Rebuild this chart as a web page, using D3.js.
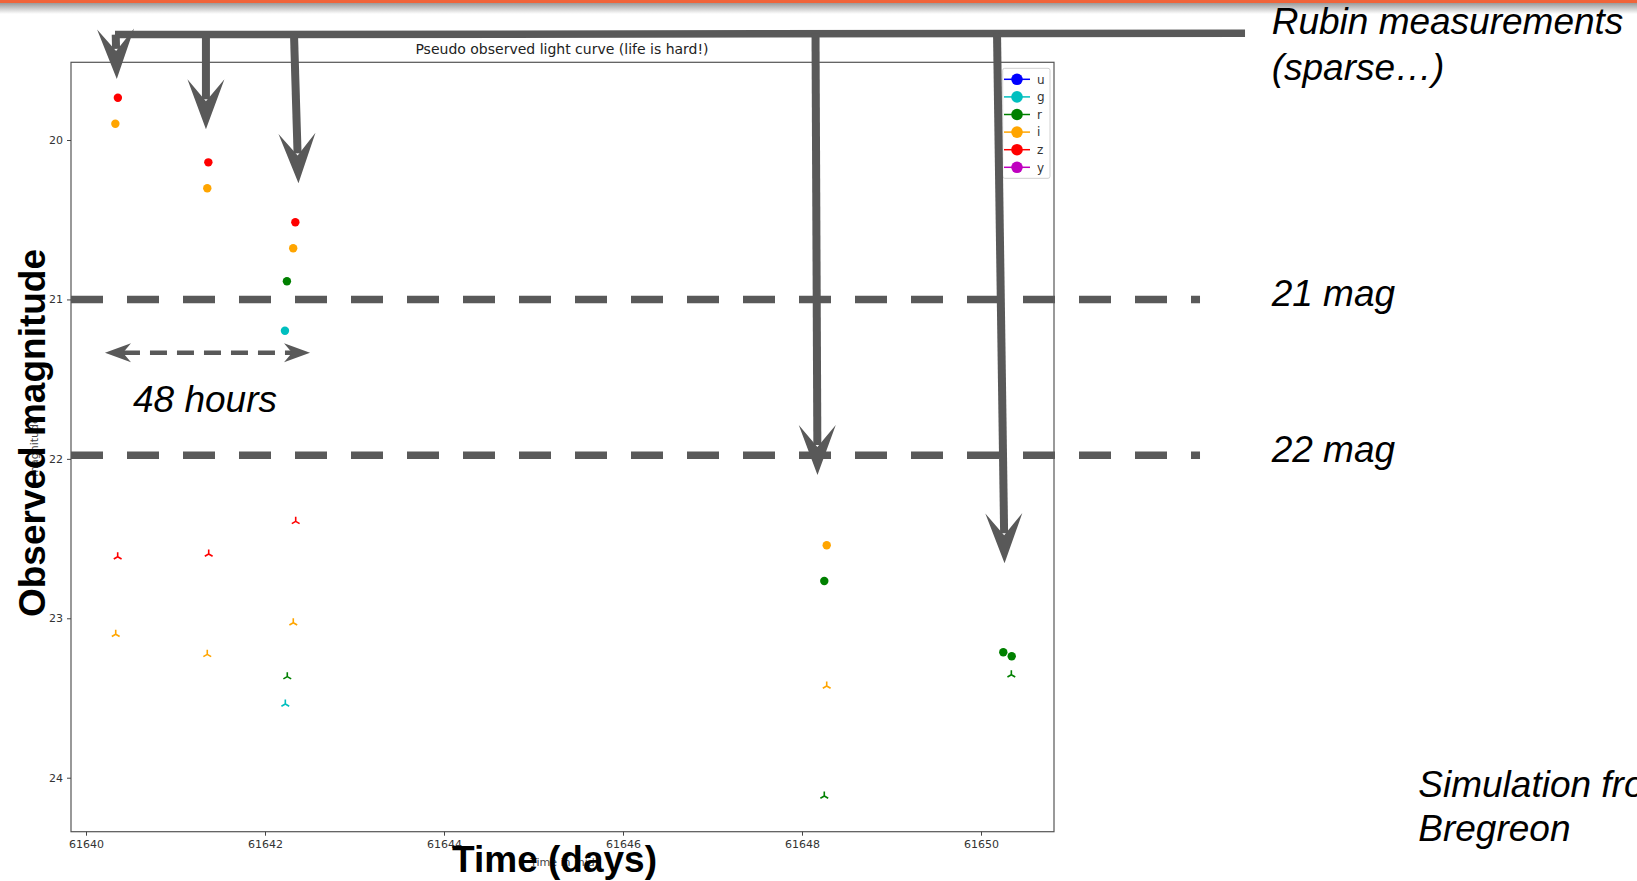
<!DOCTYPE html>
<html><head><meta charset="utf-8">
<script src="https://cdn.jsdelivr.net/npm/d3@7"></script>
<style>
html,body{margin:0;padding:0;background:#fff;overflow:hidden}
svg{display:block}
</style></head><body>
<svg id="chart" width="1637" height="881"></svg>
<script>
// ---------------- data ----------------
const bands = ["u", "g", "r", "i", "z", "y"];
const bandColors = ["#0000ff", "#00bfbf", "#008000", "#ffa500", "#ff0000", "#bf00bf"];

// detections (circles)
const detBand = ["z", "i", "z", "i", "z", "i", "r", "g", "i", "r", "r", "r"];
const detTime = [61640.356, 61640.328, 61641.367, 61641.355, 61642.339, 61642.315, 61642.245, 61642.223, 61648.276, 61648.249, 61650.249, 61650.343];
const detMag  = [19.735, 19.898, 20.140, 20.303, 20.516, 20.679, 20.886, 21.196, 22.542, 22.766, 23.213, 23.238];

// limits (tri_up markers)
const limBand = ["z", "z", "z", "i", "i", "i", "r", "g", "i", "r", "r"];
const limTime = [61640.354, 61641.371, 61642.343, 61640.332, 61641.355, 61642.316, 61642.249, 61642.227, 61648.276, 61648.249, 61650.339];
const limMag  = [22.614, 22.597, 22.392, 23.100, 23.226, 23.028, 23.366, 23.538, 23.425, 24.115, 23.354];

const xTicks = [61640, 61642, 61644, 61646, 61648, 61650];
const yTicks = [20, 21, 22, 23, 24];

const titleText = "Pseudo observed light curve (life is hard!)";

// annotations (data units)
const arrowStartTime = [61640.332, 61641.340, 61642.324, 61648.151, 61650.179];
const arrowTipTime   = [61640.344, 61641.340, 61642.374, 61648.173, 61650.263];
const arrowTipMag    = [19.617, 19.933, 20.272, 22.101, 22.655];
const barTime = [61640.324, 61652.950];
const barMag  = [19.3389, 19.3307];
const refMag  = [21.0, 21.978];
const refLabels = ["21 mag", "22 mag"];
const refTime = [61639.8324, 61652.447];
const spanTime = [61640.212, 61642.503];
const spanMag = 21.334;

// ---------------- drawing ----------------
const svg = d3.select("#chart");
const x = d3.scaleLinear().domain([61639.8324, 61650.8156]).range([71, 1054]);
const y = d3.scaleLinear().domain([19.5126, 24.3386]).range([62.3, 831.7]);
const color = d3.scaleOrdinal().domain(bands).range(bandColors);

// slide header bar
const defs = svg.append("defs");
const grad = defs.append("linearGradient").attr("id", "shadow").attr("x1", 0).attr("y1", 0).attr("x2", 0).attr("y2", 1);
grad.append("stop").attr("offset", 0).attr("stop-color", "#9a9a9a");
grad.append("stop").attr("offset", 1).attr("stop-color", "#ffffff");
svg.append("rect").attr("x", 0).attr("y", 3).attr("width", 1637).attr("height", 11).attr("fill", "url(#shadow)");
svg.append("rect").attr("x", 0).attr("y", 0).attr("width", 1637).attr("height", 3).attr("fill", "#f0643a");

// frame
const [x0, x1] = x.range(), [y0, y1] = y.range();
svg.append("rect").attr("x", x0).attr("y", y0).attr("width", x1 - x0).attr("height", y1 - y0)
  .attr("fill", "#fff").attr("stroke", "#555").attr("stroke-width", 1.2);

// axes
const xAxis = svg.append("g").attr("transform", `translate(0,${y1})`)
  .call(d3.axisBottom(x).tickValues(xTicks).tickSize(4).tickPadding(5).tickFormat(d3.format("d")));
const yAxis = svg.append("g").attr("transform", `translate(${x0},0)`)
  .call(d3.axisLeft(y).tickValues(yTicks).tickSize(4).tickPadding(4).tickFormat(d3.format("d")));
[xAxis, yAxis].forEach(g => {
  g.select(".domain").remove();
  g.selectAll("text").attr("font-family", "DejaVu Sans").attr("font-size", 11).attr("fill", "#333");
  g.selectAll("line").attr("stroke", "#444");
});

// small original matplotlib labels
svg.append("text").attr("x", (x0 + x1) / 2).attr("y", 866).attr("text-anchor", "middle")
  .attr("font-family", "DejaVu Sans").attr("font-size", 11).attr("fill", "#444").text("Time in mjd");
svg.append("text").attr("transform", `translate(38,${(y0 + y1) / 2}) rotate(-90)`).attr("text-anchor", "middle")
  .attr("font-family", "DejaVu Sans").attr("font-size", 11).attr("fill", "#444").text("magnitude");

// title
svg.append("text").attr("x", 562).attr("y", 54).attr("text-anchor", "middle")
  .attr("font-family", "DejaVu Sans").attr("font-size", 14).attr("fill", "#222").text(titleText);

// detections
svg.append("g").selectAll("circle").data(detTime.map((t, i) => ({t, m: detMag[i], b: detBand[i]})))
  .join("circle").attr("cx", d => x(d.t)).attr("cy", d => y(d.m)).attr("r", 4.2).attr("fill", d => color(d.b));

// limits tri_up
const r = 4.5;
svg.append("g").selectAll("path").data(limTime.map((t, i) => ({t, m: limMag[i], b: limBand[i]})))
  .join("path")
  .attr("transform", d => `translate(${x(d.t)},${y(d.m)})`)
  .attr("d", `M0,0V${-r}M0,0L${-0.866 * r},${0.5 * r}M0,0L${0.866 * r},${0.5 * r}`)
  .attr("stroke", d => color(d.b)).attr("stroke-width", 1.6).attr("fill", "none");

// legend
const lg = svg.append("g");
lg.append("rect").attr("x", 1002.7).attr("y", 68.3).attr("width", 47.3).attr("height", 110).attr("rx", 2)
  .attr("fill", "#fff").attr("stroke", "#d0d0d0").attr("stroke-width", 1);
const items = lg.selectAll("g").data(bands).join("g").attr("transform", (d, i) => `translate(0,${79.3 + i * 17.6})`);
items.append("line").attr("x1", 1004).attr("x2", 1030).attr("stroke", d => color(d)).attr("stroke-width", 1.5);
items.append("circle").attr("cx", 1017).attr("r", 5.8).attr("fill", d => color(d));
items.append("text").attr("x", 1037).attr("dy", "0.35em").attr("font-family", "DejaVu Sans").attr("font-size", 12)
  .attr("fill", "#333").text(d => d);

// ---------------- annotation overlay ----------------
const gray = "#595959";
const ann = svg.append("g");

// reference dashed lines
refMag.forEach(m => {
  ann.append("line").attr("x1", x(refTime[0])).attr("x2", x(refTime[1])).attr("y1", y(m)).attr("y2", y(m))
    .attr("stroke", gray).attr("stroke-width", 7.5).attr("stroke-dasharray", "32 24");
});

// horizontal bar
const bx0 = x(barTime[0]), bx1 = x(barTime[1]), by0 = y(barMag[0]), by1 = y(barMag[1]);
ann.append("line").attr("x1", bx0).attr("x2", bx1).attr("y1", by0).attr("y2", by1)
  .attr("stroke", gray).attr("stroke-width", 7.5);
const barY = px => by0 + (by1 - by0) * (px - bx0) / (bx1 - bx0);

function head(tx, ty, ux, uy, len, hw, notch) {
  const px = -uy, py = ux;
  const bxp = tx - ux * len, byp = ty - uy * len;
  const nx = tx - ux * notch, ny = ty - uy * notch;
  return `M${tx},${ty}L${bxp + px * hw},${byp + py * hw}L${nx},${ny}L${bxp - px * hw},${byp - py * hw}Z`;
}

arrowTipTime.forEach((tt, i) => {
  const sx = x(arrowStartTime[i]), sy = barY(sx);
  const tx = x(tt), ty = y(arrowTipMag[i]);
  const L = Math.hypot(tx - sx, ty - sy), ux = (tx - sx) / L, uy = (ty - sy) / L;
  const notch = 30;
  if (L > notch) {
    ann.append("line").attr("x1", sx).attr("y1", sy).attr("x2", tx - ux * notch).attr("y2", ty - uy * notch)
      .attr("stroke", gray).attr("stroke-width", 8);
  }
  ann.append("path").attr("d", head(tx, ty, ux, uy, 50, 18.5, notch - 2)).attr("fill", gray);
});

// 48 hours double arrow
{
  const ax0 = x(spanTime[0]), ax1 = x(spanTime[1]), ay = y(spanMag);
  ann.append("line").attr("x1", ax0 + 18).attr("x2", ax1 - 18).attr("y1", ay).attr("y2", ay)
    .attr("stroke", gray).attr("stroke-width", 4.5).attr("stroke-dasharray", "17 10");
  ann.append("path").attr("d", head(ax0, ay, -1, 0, 26, 9.5, 18)).attr("fill", gray);
  ann.append("path").attr("d", head(ax1, ay, 1, 0, 26, 9.5, 18)).attr("fill", gray);
}

// annotation texts
const it = (tx, ty, s, size) => ann.append("text").attr("x", tx).attr("y", ty)
  .attr("font-family", "Liberation Sans, Arial, sans-serif").attr("font-style", "italic")
  .attr("font-size", size).attr("fill", "#000").text(s);
it(1271.7, 34, "Rubin measurements", 37);
it(1271.7, 79.5, "(sparse\u2026)", 37);
refMag.forEach((m, i) => it(1271.7, y(m) + 6.5, refLabels[i], 37));
it(133, 411.7, "48 hours", 37);
it(1418.3, 796.7, "Simulation from", 37);
it(1418.3, 840.7, "Bregreon", 37);

// big axis titles
svg.append("text").attr("x", 554.5).attr("y", 872).attr("text-anchor", "middle")
  .attr("font-family", "Liberation Sans, Arial, sans-serif").attr("font-weight", "bold").attr("font-size", 37)
  .attr("fill", "#000").text("Time (days)");
svg.append("text").attr("transform", "translate(44.5,433) rotate(-90)").attr("text-anchor", "middle")
  .attr("font-family", "Liberation Sans, Arial, sans-serif").attr("font-weight", "bold").attr("font-size", 37)
  .attr("fill", "#000").text("Observed magnitude");
</script>
</body></html>
